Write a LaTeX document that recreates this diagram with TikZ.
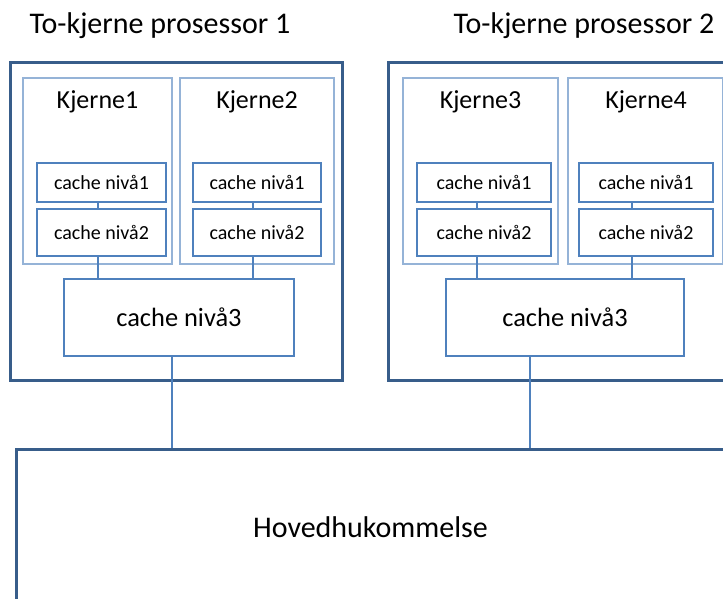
\documentclass[tikz,border=0pt]{standalone}
\usepackage{fontspec}
\setmainfont{Carlito}
\definecolor{procline}{RGB}{56,93,138}
\definecolor{cacheline}{RGB}{79,129,189}
\definecolor{coreline}{RGB}{149,179,215}

\begin{document}
\begin{tikzpicture}
        [x=1pt, y=-1pt,
         procbox/.style={rectangle, draw=procline, line width=3pt, inner sep=0pt},
         corebox/.style={rectangle, draw=coreline, line width=1.3pt, inner sep=0pt},
         cachebox/.style={rectangle, draw=cacheline, line width=1.2pt, inner sep=0pt, font=\fontsize{20}{22}\selectfont},
         bigcache/.style={cachebox, font=\fontsize{26.4}{28}\selectfont},
         title/.style={font=\fontsize{30}{32}\selectfont, inner sep=0pt},
         corename/.style={font=\fontsize{26}{28}\selectfont, inner sep=0pt},
         link/.style={draw=cacheline, line width=1.2pt}]

        \clip (0, 0) rectangle (723, 599);
        \fill[white] (0, 0) rectangle (723, 599);

        % processors
        \node[procbox, minimum width=332pt, minimum height=317pt] (proc1) at (176, 221.5) {};
        \node[procbox, minimum width=360pt, minimum height=317pt] (proc2) at (568, 221.5) {};
        \node[title] (title1) at (160, 26) {To-kjerne prosessor 1};
        \node[title] (title2) at (584, 26) {To-kjerne prosessor 2};

        % cores
        \node[corebox, minimum width=149pt, minimum height=186pt] (core1) at (97.5, 171) {};
        \node[corebox, minimum width=154pt, minimum height=186pt] (core2) at (257, 171) {};
        \node[corebox, minimum width=155pt, minimum height=186pt] (core3) at (480.5, 171) {};
        \node[corebox, minimum width=155pt, minimum height=186pt] (core4) at (645.5, 171) {};
        \node[corename] (name1) at (97.5, 102) {Kjerne1};
        \node[corename] (name2) at (257, 102) {Kjerne2};
        \node[corename] (name3) at (480.5, 102) {Kjerne3};
        \node[corename] (name4) at (646, 102) {Kjerne4};

        % cache level 1 and 2
        \node[cachebox, minimum width=129pt, minimum height=39pt] (l1a) at (101.5, 182.5) {cache nivå1};
        \node[cachebox, minimum width=129pt, minimum height=47pt] (l2a) at (101.5, 232.5) {cache nivå2};
        \node[cachebox, minimum width=128pt, minimum height=39pt] (l1b) at (257, 182.5) {cache nivå1};
        \node[cachebox, minimum width=128pt, minimum height=47pt] (l2b) at (257, 232.5) {cache nivå2};
        \node[cachebox, minimum width=134pt, minimum height=39pt] (l1c) at (484, 182.5) {cache nivå1};
        \node[cachebox, minimum width=134pt, minimum height=47pt] (l2c) at (484, 232.5) {cache nivå2};
        \node[cachebox, minimum width=134pt, minimum height=39pt] (l1d) at (646, 182.5) {cache nivå1};
        \node[cachebox, minimum width=134pt, minimum height=47pt] (l2d) at (646, 232.5) {cache nivå2};

        % cache level 3
        \node[bigcache, minimum width=230pt, minimum height=77pt] (l3a) at (179, 317.5) {cache nivå3};
        \node[bigcache, minimum width=238pt, minimum height=77pt] (l3b) at (565, 317.5) {cache nivå3};

        % main memory
        \node[procbox, minimum width=760pt, minimum height=200pt] (mem) at (396.5, 549) {};
        \node[title] (memname) at (370.5, 527) {Hovedhukommelse};

        \draw[link] ([xshift=-3.5pt]l1a.south) -- ([xshift=-3.5pt]l2a.north);
        \draw[link] ([xshift=-4pt]l1b.south) -- ([xshift=-4pt]l2b.north);
        \draw[link] ([xshift=-7pt]l1c.south) -- ([xshift=-7pt]l2c.north);
        \draw[link] ([xshift=-14pt]l1d.south) -- ([xshift=-14pt]l2d.north);

        \draw[link] ([xshift=-3.5pt]l2a.south) -- ([xshift=-3.5pt]l2a.south |- l3a.north);
        \draw[link] ([xshift=-4pt]l2b.south) -- ([xshift=-4pt]l2b.south |- l3a.north);
        \draw[link] ([xshift=-7pt]l2c.south) -- ([xshift=-7pt]l2c.south |- l3b.north);
        \draw[link] ([xshift=-14pt]l2d.south) -- ([xshift=-14pt]l2d.south |- l3b.north);

        \draw[link] ([xshift=-7pt]l3a.south) -- ([xshift=-7pt]l3a.south |- mem.north);
        \draw[link] ([xshift=-35pt]l3b.south) -- ([xshift=-35pt]l3b.south |- mem.north);
    \end{tikzpicture}
\end{document}
